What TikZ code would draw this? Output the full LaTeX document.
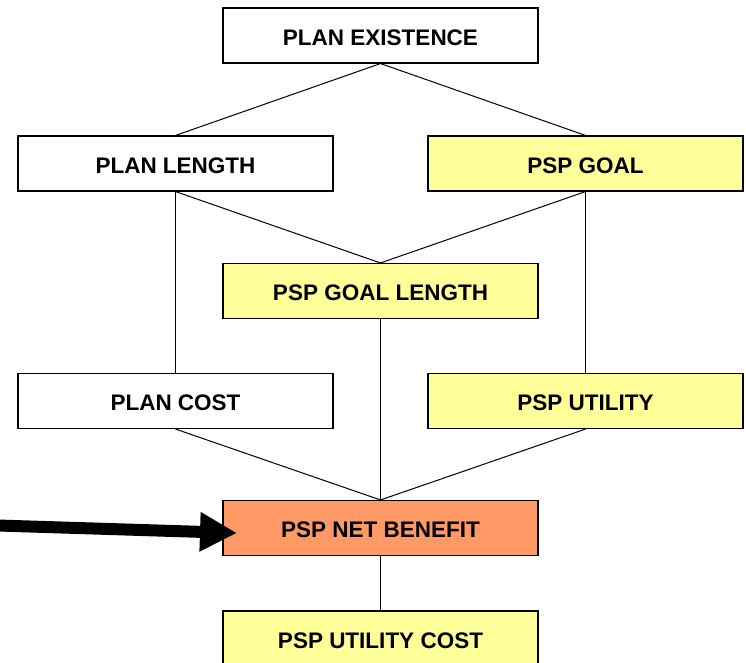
\documentclass[tikz,border=0pt]{standalone}
\usepackage{fontspec}
\setmainfont{Liberation Sans}
\usetikzlibrary{arrows.meta}
\definecolor{boxyellow}{RGB}{255,255,153}
\definecolor{boxorange}{RGB}{255,153,102}
\tikzset{
  box/.style={draw=black, line width=1.1pt, minimum width=315pt, minimum height=55pt, inner sep=0pt,
    font=\fontsize{22.5}{24}\selectfont\bfseries, fill=white, text height=19pt, text depth=0pt},
  ybox/.style={box, fill=boxyellow},
  obox/.style={box, fill=boxorange},
  link/.style={draw=black, line width=1pt},
  bigarrow/.style={draw=black, line width=12pt, -{Triangle[length=37pt,width=37pt]}}
}
\begin{document}
\begin{tikzpicture}[x=1pt,y=-1pt]
\clip (0,0) rectangle (746,662);
\useasboundingbox (0,0) rectangle (746,662);
\node[box]  (pe)  at (380.5,35.5)  {PLAN EXISTENCE};
\node[box]  (pl)  at (175.5,163.5) {PLAN LENGTH};
\node[ybox] (pg)  at (585.5,163.5) {PSP GOAL};
\node[ybox] (pgl) at (380.5,291)   {PSP GOAL LENGTH};
\node[box]  (pc)  at (175.5,401)   {PLAN COST};
\node[ybox] (pu)  at (585.5,401)   {PSP UTILITY};
\node[obox] (nb)  at (380.5,528)   {PSP NET BENEFIT};
\node[ybox] (uc)  at (380.5,638.5) {PSP UTILITY COST};
\path[link] (pe.south) -- (pl.north);
\path[link] (pe.south) -- (pg.north);
\path[link] (pl.south) -- (pgl.north);
\path[link] (pg.south) -- (pgl.north);
\path[link] (pl.south) -- (pc.north);
\path[link] (pg.south) -- (pu.north);
\path[link] (pgl.south) -- (nb.north);
\path[link] (pc.south) -- (nb.north);
\path[link] (pu.south) -- (nb.north);
\path[link] (nb.south) -- (uc.north);
\coordinate (astart) at (-2,525.5);
\coordinate (atip) at (237,533);
\draw[bigarrow] (astart) -- (atip);
\end{tikzpicture}
\end{document}
